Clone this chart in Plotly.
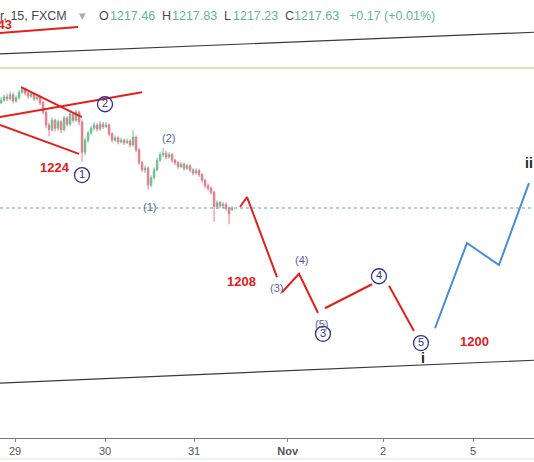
import plotly.graph_objects as go

# Eje x en días desde el 29 de octubre; eje y en precio (oro, velas de 15 min)
TICK_POS = [0, 1, 1.99, 3.03, 4.09, 5.09]
TICK_TEXT = ["29", "30", "31", "<b>Nov</b>", "2", "5"]

CANDLE_START = -0.155
CANDLE_STEP = 1 / 30

OPEN = [1230.8, 1231.1, 1231.5, 1231.3, 1231.8, 1231.0, 1231.4, 1232.1, 1232.5, 1232.0,
        1231.6, 1231.9, 1231.3, 1231.5, 1230.8, 1229.6, 1228.0, 1227.4, 1228.6, 1227.6,
        1228.4, 1227.4, 1228.9, 1228.1, 1229.4, 1228.6, 1229.6, 1228.4, 1224.6, 1226.1,
        1227.0, 1227.6, 1228.0, 1227.5, 1228.1, 1227.8, 1228.0, 1226.9, 1226.1, 1226.4,
        1225.9, 1226.1, 1225.8, 1226.0, 1225.5, 1226.5, 1224.9, 1223.3, 1222.4, 1222.6,
        1220.5, 1221.4, 1222.4, 1223.6, 1224.3, 1224.5, 1224.0, 1224.3, 1223.6, 1223.3,
        1222.8, 1223.1, 1222.6, 1222.9, 1222.4, 1222.0, 1222.3, 1221.8, 1221.1, 1220.4,
        1220.1, 1219.6, 1217.8, 1218.3, 1217.9, 1218.1, 1217.6, 1217.46]
HIGH = [1231.5, 1231.8, 1231.9, 1232.2, 1232.0, 1231.7, 1232.4, 1232.8, 1232.7, 1232.2,
        1232.2, 1232.0, 1231.8, 1231.7, 1231.0, 1229.8, 1228.3, 1228.9, 1228.8, 1228.7,
        1228.6, 1229.2, 1229.1, 1229.7, 1229.6, 1229.9, 1229.8, 1228.6, 1226.4, 1227.3,
        1227.9, 1228.4, 1228.2, 1228.5, 1228.4, 1228.4, 1228.2, 1227.1, 1226.7, 1226.6,
        1226.4, 1226.3, 1226.3, 1226.2, 1227.4, 1226.7, 1225.1, 1223.5, 1222.9, 1222.8,
        1221.7, 1222.7, 1223.9, 1224.6, 1225.1, 1224.8, 1224.6, 1224.5, 1223.8, 1223.5,
        1223.4, 1223.3, 1223.2, 1223.1, 1222.6, 1222.6, 1222.5, 1222.0, 1221.3, 1220.7,
        1220.3, 1219.8, 1218.6, 1218.5, 1218.4, 1218.3, 1217.8, 1217.83]
LOW = [1230.6, 1230.9, 1231.0, 1231.1, 1230.7, 1230.8, 1231.2, 1231.9, 1231.7, 1231.3,
       1231.4, 1231.0, 1231.1, 1230.5, 1229.3, 1227.6, 1226.6, 1227.2, 1227.2, 1227.3,
       1227.0, 1227.2, 1227.8, 1227.9, 1228.3, 1228.4, 1228.0, 1223.4, 1224.2, 1225.8,
       1226.8, 1227.3, 1227.2, 1227.3, 1227.5, 1227.6, 1226.6, 1225.8, 1225.9, 1225.6,
       1225.7, 1225.5, 1225.6, 1225.2, 1225.3, 1224.6, 1223.0, 1222.1, 1222.0, 1219.9,
       1220.2, 1221.2, 1222.2, 1223.4, 1224.0, 1223.7, 1223.8, 1223.3, 1223.0, 1222.5,
       1222.6, 1222.3, 1222.4, 1222.1, 1221.7, 1221.8, 1221.5, 1220.8, 1220.1, 1219.8,
       1219.3, 1215.9, 1217.5, 1217.6, 1217.6, 1217.3, 1215.6, 1217.23]
CLOSE = [1231.1, 1231.5, 1231.3, 1231.8, 1231.0, 1231.4, 1232.1, 1232.5, 1232.0, 1231.6,
         1231.9, 1231.3, 1231.5, 1230.8, 1229.6, 1228.0, 1227.4, 1228.6, 1227.6, 1228.4,
         1227.4, 1228.9, 1228.1, 1229.4, 1228.6, 1229.6, 1228.4, 1224.6, 1226.1, 1227.0,
         1227.6, 1228.0, 1227.5, 1228.1, 1227.8, 1228.0, 1226.9, 1226.1, 1226.4, 1225.9,
         1226.1, 1225.8, 1226.0, 1225.5, 1226.5, 1224.9, 1223.3, 1222.4, 1222.6, 1220.5,
         1221.4, 1222.4, 1223.6, 1224.3, 1224.5, 1224.0, 1224.3, 1223.6, 1223.3, 1222.8,
         1223.1, 1222.6, 1222.9, 1222.4, 1222.0, 1222.3, 1221.8, 1221.1, 1220.4, 1220.1,
         1219.6, 1217.8, 1218.3, 1217.9, 1218.1, 1217.6, 1216.9, 1217.63]

PRECIO_ACTUAL = 1217.63
NIVEL_OLIVA = 1235.13

# Canal (líneas negras)
CANAL_SUP_X, CANAL_SUP_Y = [-0.167, 5.767], [1236.9, 1239.6]
CANAL_INF_X, CANAL_INF_Y = [-0.167, 5.767], [1195.75, 1198.6]

# Líneas rojas dibujadas a mano (arriba a la izquierda)
ROJAS = [
    ([-0.167, 0.70], [1239.5, 1240.25]),
    ([0.067, 0.744], [1232.75, 1229.0]),
    ([-0.167, 1.411], [1229.0, 1232.1]),
    ([-0.167, 0.711], [1228.0, 1224.4]),
]

# Proyección de ondas
PROY_ROJA = [
    ([2.50, 2.578, 2.911], [1217.75, 1219.0, 1209.0]),
    ([2.967, 3.156, 3.367], [1207.1, 1209.4, 1204.5]),
    ([3.444, 3.967], [1205.1, 1208.1]),
    ([4.156, 4.433], [1207.9, 1202.25]),
]
PROY_AZUL_X = [4.667, 5.022, 5.378, 5.711]
PROY_AZUL_Y = [1202.6, 1213.25, 1210.5, 1220.75]

# Etiquetas
CIRCULOS = [("2", 1.0, 1230.6), ("1", 0.744, 1221.75), ("3", 3.422, 1201.9),
            ("4", 4.044, 1209.1), ("5", 4.511, 1200.75)]
PARENTESIS = [("(2)", 1.70, 1226.4), ("(1)", 1.489, 1217.75), ("(3)", 2.911, 1207.6),
              ("(4)", 3.178, 1211.1), ("(5)", 3.411, 1203.1)]
NIVELES = [("1224", 0.444, 1222.75), ("1208", 2.522, 1208.5), ("1200", 5.111, 1201.0)]
GRADOS = [("i", 4.533, 1198.9), ("ii", 5.711, 1223.25)]

ROJO = "#e3201c"
AZUL = "#4a8bd8"
NAVY = "#2d3190"
LILA = "#5b5fa8"
VERDE = "#5fb98f"

fig = go.Figure()

fig.add_trace(go.Candlestick(
    x=[CANDLE_START + i * CANDLE_STEP for i in range(len(CLOSE))],
    open=OPEN, high=HIGH, low=LOW, close=CLOSE,
    increasing=dict(line=dict(color="#6dbd8f", width=1), fillcolor="#6dbd8f"),
    decreasing=dict(line=dict(color="#e27b8b", width=1), fillcolor="#e27b8b"),
    whiskerwidth=0,
    showlegend=False,
    hoverinfo="skip",
))

fig.add_hline(y=NIVEL_OLIVA, line_color="#b9c94c", line_width=1.2)
fig.add_hline(y=PRECIO_ACTUAL, line_color="#4fae92", line_width=1, line_dash="dot")

for xs, ys in [(CANAL_SUP_X, CANAL_SUP_Y), (CANAL_INF_X, CANAL_INF_Y)]:
    fig.add_trace(go.Scatter(x=xs, y=ys, mode="lines",
                             line=dict(color="#3a3a3a", width=1.2),
                             showlegend=False, hoverinfo="skip"))

for xs, ys in ROJAS + PROY_ROJA:
    fig.add_trace(go.Scatter(x=xs, y=ys, mode="lines",
                             line=dict(color=ROJO, width=2),
                             showlegend=False, hoverinfo="skip"))

fig.add_trace(go.Scatter(x=PROY_AZUL_X, y=PROY_AZUL_Y, mode="lines",
                         line=dict(color=AZUL, width=2),
                         showlegend=False, hoverinfo="skip"))

fig.add_trace(go.Scatter(
    x=[c[1] for c in CIRCULOS], y=[c[2] for c in CIRCULOS],
    text=[c[0] for c in CIRCULOS], mode="markers+text",
    textposition="middle center",
    textfont=dict(family="Liberation Sans", size=11, color=NAVY),
    marker=dict(symbol="circle-open", size=15, color=NAVY, line=dict(width=1.3)),
    showlegend=False, hoverinfo="skip",
))

for texto, x, y in PARENTESIS:
    fig.add_annotation(x=x, y=y, text=texto, showarrow=False,
                       font=dict(family="Liberation Sans", size=11, color=LILA))
for texto, x, y in NIVELES:
    fig.add_annotation(x=x, y=y, text=f"<b>{texto}</b>", showarrow=False,
                       font=dict(family="Liberation Sans", size=13, color=ROJO))
for texto, x, y in GRADOS:
    fig.add_annotation(x=x, y=y, text=f"<b>{texto}</b>", showarrow=False,
                       font=dict(family="Liberation Sans", size=14, color="#222222"))

# "1243" cortado por el borde izquierdo
fig.add_annotation(x=-0.011, y=1240.6, text="<b>1243</b>", showarrow=False,
                   xanchor="right", font=dict(family="Liberation Sans", size=13, color=ROJO))

# Cabecera tipo TradingView
cabecera = [
    ("r, 15, FXCM", "#4a4a4a", -2),
    ("▾", "#aaaaaa", 77),
    ("O", "#4a4a4a", 97), ("1217.46", VERDE, 108),
    ("H", "#4a4a4a", 160), ("1217.83", VERDE, 170),
    ("L", "#4a4a4a", 222), ("1217.23", VERDE, 231),
    ("C", "#4a4a4a", 283), ("1217.63", VERDE, 292),
    ("+0.17 (+0.01%)", VERDE, 347),
]
for texto, color, px in cabecera:
    fig.add_annotation(x=px / 534, y=1 - 16 / 438, xref="paper", yref="paper",
                       text=texto, showarrow=False, xanchor="left", yanchor="middle",
                       font=dict(family="Liberation Sans", size=12.5, color=color))

fig.add_shape(type="line", xref="paper", yref="paper", x0=0, x1=1,
              y0=-21 / 438, y1=-21 / 438, line=dict(color="#e2e2e2", width=1))

fig.update_xaxes(
    range=[-0.167, 5.767],
    tickvals=TICK_POS, ticktext=TICK_TEXT,
    ticks="outside", ticklen=3, tickcolor="#888888",
    tickfont=dict(family="Liberation Sans", size=11, color="#555555"),
    showline=True, linecolor="#777777", linewidth=1,
    showgrid=False, zeroline=False,
    rangeslider=dict(visible=False),
)
fig.update_yaxes(
    range=[1188.88, 1243.63],
    showticklabels=False, showgrid=False, zeroline=False,
)
fig.update_layout(
    width=534, height=462,
    margin=dict(l=0, r=0, t=0, b=24),
    paper_bgcolor="white", plot_bgcolor="white",
    showlegend=False,
)

# el body trae 8px de margen por defecto; se quita para que el gráfico llene la ventana
fig.write_html(
    "out.html",
    config={"displayModeBar": False},
    post_script="document.body.style.margin = '0';",
)
